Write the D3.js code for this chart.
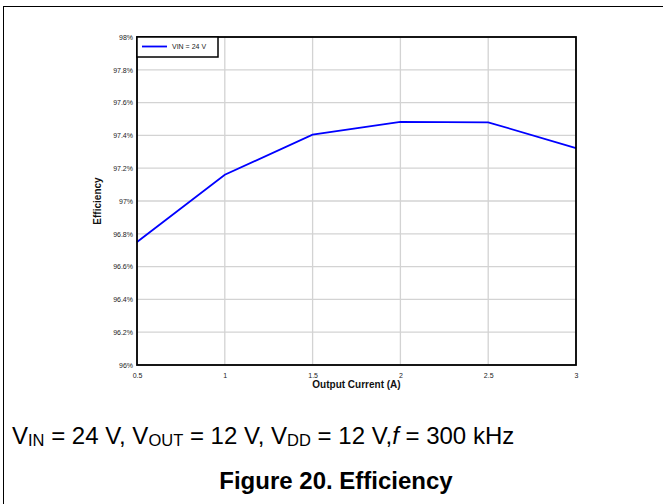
<!DOCTYPE html>
<html>
<head>
<meta charset="utf-8">
<script src="https://cdn.jsdelivr.net/npm/d3@7"></script>
<style>
  html, body { margin: 0; padding: 0; background: #fff; }
  svg { display: block; }
</style>
</head>
<body>
<svg id="chart" width="663" height="504"></svg>
<script>
// Efficiency vs output current, VIN = 24 V
const currents = [0.5, 1, 1.5, 2, 2.5, 3];
const efficiency = [96.75, 97.16, 97.405, 97.482, 97.48, 97.323];
const seriesName = "VIN = 24 V";
const xTicks = [0.5, 1, 1.5, 2, 2.5, 3];
const yTicks = [96, 96.2, 96.4, 96.6, 96.8, 97, 97.2, 97.4, 97.6, 97.8, 98];

const FONT = "Liberation Sans, Arial, Helvetica, sans-serif";
const svg = d3.select("#chart");
const plot = { left: 137, right: 576, top: 37, bottom: 365 };

// page frame
svg.append("rect")
  .attr("x", 3.5).attr("y", 6.5)
  .attr("width", 700).attr("height", 600)
  .attr("fill", "none").attr("stroke", "#000").attr("stroke-width", 1);

const x = d3.scaleLinear().domain([0.5, 3]).range([plot.left, plot.right]);
const y = d3.scaleLinear().domain([96, 98]).range([plot.bottom, plot.top]);

// grid
const grid = svg.append("g");
grid.selectAll("line.h").data(yTicks).join("line")
  .attr("x1", plot.left).attr("x2", plot.right)
  .attr("y1", d => y(d)).attr("y2", d => y(d))
  .attr("stroke", "#d3d3d3").attr("stroke-width", 1.3);
grid.selectAll("line.v").data(xTicks).join("line")
  .attr("y1", plot.top).attr("y2", plot.bottom)
  .attr("x1", d => x(d)).attr("x2", d => x(d))
  .attr("stroke", "#d3d3d3").attr("stroke-width", 1.3);

// axes (labels only)
const yAxis = d3.axisLeft(y).tickValues(yTicks).tickSize(0).tickPadding(4)
  .tickFormat(d => d3.format(".1f")(d).replace(/\.0$/, "") + "%");
const gy = svg.append("g").attr("transform", `translate(${plot.left},0)`).call(yAxis);
gy.select(".domain").remove();
gy.selectAll("text").attr("font-family", FONT).attr("font-size", 7).attr("fill", "#222");

const xAxis = d3.axisBottom(x).tickValues(xTicks).tickSize(0).tickPadding(8)
  .tickFormat(d3.format("~g"));
const gx = svg.append("g").attr("transform", `translate(0,${plot.bottom})`).call(xAxis);
gx.select(".domain").remove();
gx.selectAll("text").attr("font-family", FONT).attr("font-size", 7).attr("fill", "#222");

// data line
const line = d3.line().x((d, i) => x(currents[i])).y(d => y(d));
svg.append("path").datum(efficiency)
  .attr("d", line)
  .attr("fill", "none").attr("stroke", "#0000ff").attr("stroke-width", 1.8);

// plot frame
svg.append("rect")
  .attr("x", plot.left).attr("y", plot.top)
  .attr("width", plot.right - plot.left).attr("height", plot.bottom - plot.top)
  .attr("fill", "none").attr("stroke", "#000").attr("stroke-width", 1.8);

// legend
const lg = svg.append("g");
lg.append("rect").attr("x", plot.left).attr("y", plot.top)
  .attr("width", 81).attr("height", 20)
  .attr("fill", "#fff").attr("stroke", "#000").attr("stroke-width", 1.5);
lg.append("line").attr("x1", 142).attr("x2", 167).attr("y1", 46.5).attr("y2", 46.5)
  .attr("stroke", "#0000ff").attr("stroke-width", 1.8);
lg.append("text").attr("x", 172).attr("y", 49)
  .attr("font-family", FONT).attr("font-size", 7)
  .attr("fill", "#222").text(seriesName);

// axis titles
svg.append("text")
  .attr("x", (plot.left + plot.right) / 2).attr("y", 388)
  .attr("text-anchor", "middle")
  .attr("font-family", FONT).attr("font-weight", "bold")
  .attr("font-size", 10).attr("fill", "#111").text("Output Current (A)");
svg.append("text")
  .attr("transform", `translate(101,${(plot.top + plot.bottom) / 2}) rotate(-90)`)
  .attr("text-anchor", "middle")
  .attr("font-family", FONT).attr("font-weight", "bold")
  .attr("font-size", 10).attr("fill", "#111").text("Efficiency");

// operating conditions
const cond = svg.append("text").attr("x", 12).attr("y", 444)
  .attr("font-family", FONT).attr("font-size", 24).attr("fill", "#000");
const parts = [
  ["V", null], ["IN", "sub"], [" = 24 V, V", null], ["OUT", "sub"],
  [" = 12 V, V", null], ["DD", "sub"], [" = 12 V,", null], ["f", "it"], [" = 300 kHz", null]
];
parts.forEach(([t, s], i) => {
  const ts = cond.append("tspan").text(t);
  const prev = parts[i - 1];
  if (s === "sub") ts.attr("font-size", 16.5).attr("dy", 1.5);
  else if (prev && prev[1] === "sub") ts.attr("dy", -1.5);
  if (s === "it") ts.attr("font-style", "italic");
});

// figure caption
svg.append("text").attr("x", 336).attr("y", 489)
  .attr("text-anchor", "middle")
  .attr("font-family", FONT)
  .attr("font-weight", "bold").attr("font-size", 24).attr("fill", "#000")
  .text("Figure 20. Efficiency");
</script>
</body>
</html>
